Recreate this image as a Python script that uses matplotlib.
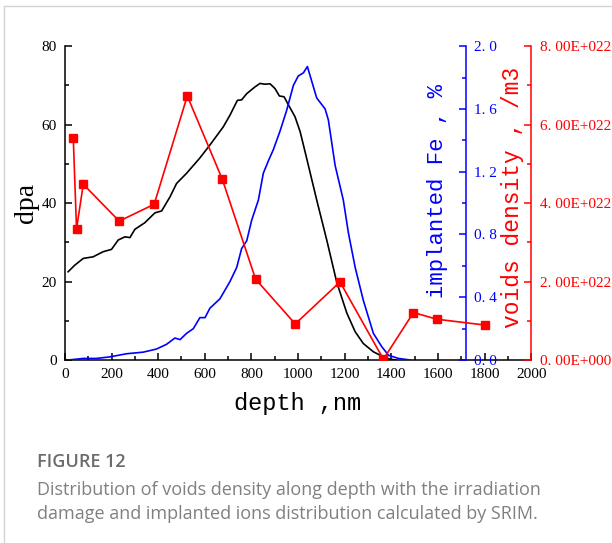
import matplotlib.pyplot as plt
from matplotlib.lines import Line2D
from matplotlib.ticker import MultipleLocator, FuncFormatter

# damage profile (SRIM), dpa vs depth
depth_dpa = [14, 43, 79, 121, 164, 200, 229, 258, 279, 300, 343, 386, 415, 451,
             479, 522, 579, 622, 679, 708, 740, 758, 780, 815, 837, 858, 880,
             901, 920, 940, 959, 987, 1009, 1037, 1080, 1123, 1166, 1209, 1245,
             1280, 1323, 1366, 1395, 1420]
dpa = [22.5, 24.2, 25.9, 26.3, 27.6, 28.2, 30.6, 31.4, 31.2, 33.3, 35.0, 37.5,
       38.0, 41.6, 45.0, 47.6, 51.5, 54.8, 59.4, 62.4, 66.2, 66.3, 67.9, 69.6,
       70.5, 70.3, 70.4, 69.2, 67.3, 67.1, 65.0, 62.0, 58.2, 51.4, 40.8, 30.6,
       19.8, 12.0, 7.2, 4.2, 2.1, 0.8, 0.2, 0.0]

# implanted Fe, %
depth_fe = [14, 79, 136, 193, 265, 336, 393, 436, 472, 494, 522, 551, 579, 601,
            622, 665, 708, 737, 758, 780, 801, 830, 851, 873, 894, 923, 951,
            980, 1001, 1023, 1040, 1058, 1080, 1116, 1130, 1159, 1194, 1216,
            1245, 1280, 1323, 1359, 1388, 1431, 1481]
fe = [0.0, 0.01, 0.01, 0.02, 0.04, 0.05, 0.07, 0.10, 0.14, 0.13, 0.17, 0.20,
      0.27, 0.27, 0.33, 0.39, 0.50, 0.59, 0.71, 0.76, 0.89, 1.02, 1.19, 1.27,
      1.34, 1.46, 1.59, 1.75, 1.81, 1.83, 1.87, 1.78, 1.67, 1.60, 1.53, 1.24,
      1.02, 0.81, 0.59, 0.38, 0.17, 0.085, 0.03, 0.01, 0.0]

# measured voids density, /m3
depth_voids = [36, 50, 79, 233, 383, 525, 675, 818, 988, 1180, 1366, 1495, 1595, 1803]
voids = [5.66e22, 3.34e22, 4.48e22, 3.54e22, 3.97e22, 6.73e22, 4.61e22,
         2.06e22, 0.92e22, 1.99e22, 0.02e22, 1.21e22, 1.04e22, 0.89e22]

plt.rcParams['font.family'] = 'Liberation Serif'
mono = 'Liberation Mono'

fig = plt.figure(figsize=(6.12, 5.43), dpi=100)
ax = fig.add_axes([0.106, 0.337, 0.762, 0.578])
ax_fe = ax.twinx()
ax_v = ax.twinx()

ax.plot(depth_dpa, dpa, color='black', lw=1.2)
ax_fe.plot(depth_fe, fe, color='blue', lw=1.2)
ax_v.plot(depth_voids, voids, color='red', lw=1.2, marker='s', ms=6)

ax.set_xlim(0, 2000)
ax.set_ylim(0, 80)
ax_fe.set_ylim(0, 2.0)
ax_v.set_ylim(0, 8e22)

for a in (ax, ax_fe, ax_v):
    for s in a.spines.values():
        s.set_visible(False)
    a.patch.set_visible(False)

ax.spines['left'].set_visible(True)
ax.spines['bottom'].set_visible(True)
ax.spines['left'].set_linewidth(1.1)
ax.spines['bottom'].set_linewidth(1.1)

ax_fe.spines['right'].set_visible(True)
ax_fe.spines['right'].set_position(('axes', 0.8605))
ax_fe.spines['right'].set_color('blue')
ax_fe.spines['right'].set_linewidth(1.1)

ax_v.spines['right'].set_visible(True)
ax_v.spines['right'].set_color('red')
ax_v.spines['right'].set_linewidth(1.1)

ax.xaxis.set_major_locator(MultipleLocator(200))
ax.xaxis.set_minor_locator(MultipleLocator(100))
ax.yaxis.set_major_locator(MultipleLocator(20))
ax.yaxis.set_minor_locator(MultipleLocator(10))
ax_fe.yaxis.set_major_locator(MultipleLocator(0.4))
ax_fe.yaxis.set_minor_locator(MultipleLocator(0.2))
ax_fe.yaxis.set_major_formatter(FuncFormatter(lambda v, p: f'{v:.1f}'.replace('.', '. ')))
ax_v.yaxis.set_major_locator(MultipleLocator(2e22))
ax_v.yaxis.set_minor_locator(MultipleLocator(1e22))

def sci(v, p):
    if v == 0:
        return '0. 00E+000'
    e = int(f'{v:e}'.split('e')[1])
    return f'{v / 10**e:.2f}E+{e:03d}'.replace('.', '. ')

ax_v.yaxis.set_major_formatter(FuncFormatter(sci))

ax.tick_params(which='both', direction='in', width=1.1, labelsize=11)
ax.tick_params(axis='x', pad=6)
ax.tick_params(axis='y', pad=6)
ax.tick_params(which='major', length=5)
ax.tick_params(which='minor', length=3)
ax_fe.tick_params(which='both', direction='in', width=1.1, colors='blue', labelsize=11, pad=6)
ax_fe.tick_params(which='major', length=5)
ax_fe.tick_params(which='minor', length=3)
ax_v.tick_params(which='both', direction='in', width=1.1, colors='red', labelsize=11, pad=6)
ax_v.tick_params(which='major', length=5)
ax_v.tick_params(which='minor', length=3)

ax.set_xlabel('depth ,nm', fontsize=17, family=mono, labelpad=8)
ax.set_ylabel('dpa', fontsize=20, labelpad=2)

fig.text(437 / 612, 1 - 191 / 543, 'implanted Fe , %', color='blue', rotation=90,
         fontsize=16, family=mono, ha='center', va='center')
fig.text(512 / 612, 1 - 197 / 543, 'voids density , /m3', color='red', rotation=90,
         fontsize=16.5, family=mono, ha='center', va='center')

# caption
fig.text(37 / 612, 1 - 462 / 543, 'FIGURE 12', fontsize=13, family='Open Sans',
         weight='semibold', color='#6b6b6b', va='center')
fig.text(37 / 612, 1 - 490 / 543, 'Distribution of voids density along depth with the irradiation',
         fontsize=13, family='Open Sans', color='#808080', va='center')
fig.text(37 / 612, 1 - 514 / 543, 'damage and implanted ions distribution calculated by SRIM.',
         fontsize=13, family='Open Sans', color='#808080', va='center')

# card border
fig.add_artist(Line2D([4 / 612, 1], [1 - 6 / 543, 1 - 6 / 543], transform=fig.transFigure,
                      color='#d4d4d4', lw=1))
fig.add_artist(Line2D([4 / 612, 4 / 612], [0, 1 - 6 / 543], transform=fig.transFigure,
                      color='#d4d4d4', lw=1))

fig.savefig('out.png', dpi=100)
